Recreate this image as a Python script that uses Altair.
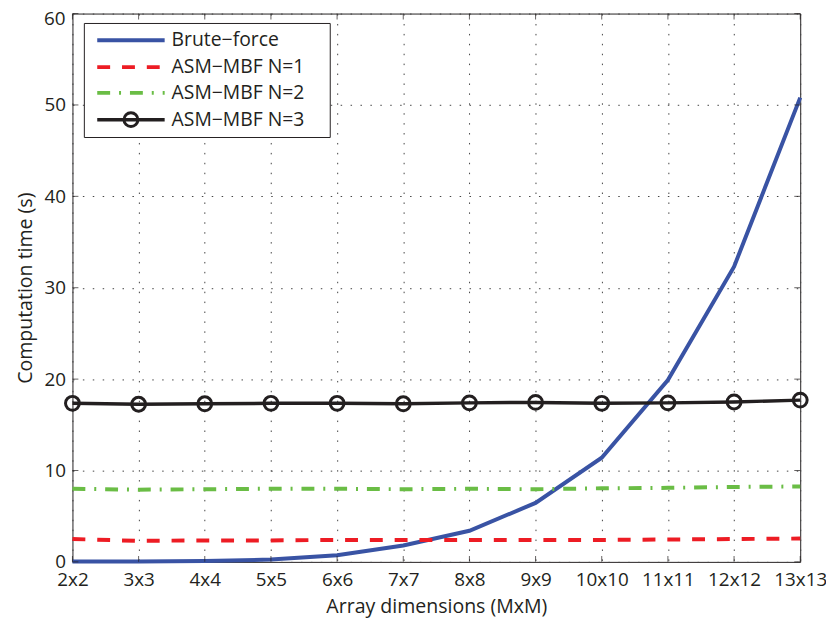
import altair as alt
import pandas as pd

cats = ["2x2", "3x3", "4x4", "5x5", "6x6", "7x7", "8x8", "9x9", "10x10", "11x11", "12x12", "13x13"]
brute = [0.03, 0.05, 0.1, 0.25, 0.72, 1.8, 3.4, 6.45, 11.4, 19.9, 32.3, 50.8]
n1 = [2.5, 2.3, 2.35, 2.35, 2.4, 2.4, 2.4, 2.4, 2.4, 2.45, 2.5, 2.55]
n2 = [8.0, 7.9, 7.95, 8.0, 8.0, 7.95, 8.0, 7.95, 8.05, 8.1, 8.2, 8.25]
n3 = [17.35, 17.25, 17.3, 17.35, 17.35, 17.3, 17.4, 17.45, 17.35, 17.4, 17.5, 17.7]
yticks = [0, 10, 20, 30, 40, 50, 60]
names = ["Brute\u2212force", "ASM\u2212MBF N=1", "ASM\u2212MBF N=2", "ASM\u2212MBF N=3"]

BLUE = "#3953A4"
RED = "#ED1C24"
GREEN = "#6ABD45"
BLACK = "#231F20"
FONT = "Open Sans"

W, H = 734, 553

xs = alt.X("cat:N", sort=cats, scale=alt.Scale(type="point", padding=0),
           axis=alt.Axis(title="Array dimensions (MxM)", labelAngle=0, tickSize=0,
                         labelPadding=9, titlePadding=7, grid=True, domain=False))
ys = alt.Y("value:Q", scale=alt.Scale(domain=[0, 60], nice=False),
           axis=alt.Axis(title="Computation time (s)", values=yticks, tickSize=0,
                         labelExpr="datum.value == 60 ? '' : datum.label",
                         labelPadding=7, titlePadding=9, grid=True, domain=False))


def df(vals):
    return pd.DataFrame({"cat": cats, "value": vals})


base_brute = alt.Chart(df(brute)).mark_line(color=BLUE, strokeWidth=4).encode(x=xs, y=ys)
base_n1 = alt.Chart(df(n1)).mark_line(color=RED, strokeWidth=4, strokeDash=[13, 12]).encode(x=xs, y=ys)
base_n2 = alt.Chart(df(n2)).mark_line(color=GREEN, strokeWidth=4, strokeDash=[13, 9, 2, 9]).encode(x=xs, y=ys)
base_n3 = alt.Chart(df(n3)).mark_line(color=BLACK, strokeWidth=3.5).encode(x=xs, y=ys)
pts_n3 = alt.Chart(df(n3)).mark_point(shape="circle", filled=False, color=BLACK,
                                      size=196, strokeWidth=3, opacity=1).encode(x=xs, y=ys)

# top y label drawn as text so it stays inside the page
top_lbl = alt.Chart(pd.DataFrame({"value": [yticks[-1]], "t": [str(yticks[-1])]})).mark_text(
    align="right", baseline="top", dy=-3, font=FONT, fontSize=19, color=BLACK).encode(
    x=alt.value(-7), y="value:Q", text="t:N")

# inward ticks
xt = pd.DataFrame({"cat": cats})
yt = pd.DataFrame({"value": yticks})
tick_b = alt.Chart(xt).mark_tick(color=BLACK, orient="vertical", size=6, thickness=1).encode(
    x=alt.X("cat:N", sort=cats), y=alt.value(H - 3))
tick_t = alt.Chart(xt).mark_tick(color=BLACK, orient="vertical", size=6, thickness=1).encode(
    x=alt.X("cat:N", sort=cats), y=alt.value(3))
tick_l = alt.Chart(yt).mark_tick(color=BLACK, orient="horizontal", size=6, thickness=1).encode(
    y="value:Q", x=alt.value(3))
tick_r = alt.Chart(yt).mark_tick(color=BLACK, orient="horizontal", size=6, thickness=1).encode(
    y="value:Q", x=alt.value(W - 3))

# custom legend
one = pd.DataFrame({"k": [0]})
box = alt.Chart(one).mark_rect(fill="white", stroke=BLACK, strokeWidth=1).encode(
    x=alt.value(12), x2=alt.value(260), y=alt.value(10), y2=alt.value(125))
rows = [27, 54, 80, 107]
styles = [
    dict(color=BLUE, strokeWidth=4),
    dict(color=RED, strokeWidth=4, strokeDash=[13, 12]),
    dict(color=GREEN, strokeWidth=4, strokeDash=[13, 9, 2, 9]),
    dict(color=BLACK, strokeWidth=3.5),
]
leg_layers = [box]
for nm, ry, st in zip(names, rows, styles):
    leg_layers.append(alt.Chart(one).mark_rule(**st).encode(
        x=alt.value(25), x2=alt.value(93), y=alt.value(ry)))
    leg_layers.append(alt.Chart(pd.DataFrame({"t": [nm]})).mark_text(
        align="left", baseline="middle", font=FONT, fontSize=19.5, color=BLACK).encode(
        x=alt.value(100), y=alt.value(ry), text="t:N"))
leg_layers.append(alt.Chart(one).mark_point(shape="circle", filled=False, color=BLACK,
                                            size=196, strokeWidth=3, opacity=1).encode(
    x=alt.value(59), y=alt.value(rows[3])))

chart = alt.layer(
    base_brute, base_n1, base_n2, base_n3, pts_n3,
    tick_b, tick_t, tick_l, tick_r, top_lbl,
    *leg_layers
).properties(
    width=W, height=H,
    autosize=alt.AutoSizeParams(type="none"),
    padding={"left": 65, "top": 3, "right": 26, "bottom": 55},
    background="white",
).configure_view(
    stroke=BLACK, strokeWidth=1
).configure_axis(
    labelFont=FONT, labelFontSize=19, labelColor=BLACK,
    titleFont=FONT, titleFontSize=19.7, titleColor=BLACK, titleFontWeight="normal",
    gridColor="#444444", gridDash=[1.5, 8.5], gridWidth=1, gridOpacity=1,
)

chart.save("out.html", embed_options={"renderer": "svg", "actions": False})
